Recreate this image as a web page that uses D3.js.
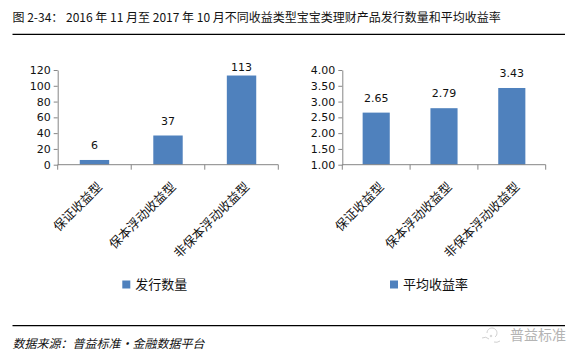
<!DOCTYPE html>
<html><head><meta charset="utf-8">
<script src="https://cdn.jsdelivr.net/npm/d3@7"></script>
<style>body{margin:0;background:#fff} svg{display:block}</style>
</head><body><svg id="c" width="584" height="363"></svg>
<script>
const categories = ["保证收益型", "保本浮动收益型", "非保本浮动收益型"];
const issueCounts = [6, 37, 113];
const avgYields = [2.65, 2.79, 3.43];
const countTicks = [0, 20, 40, 60, 80, 100, 120];
const yieldTicks = [1.00, 1.50, 2.00, 2.50, 3.00, 3.50, 4.00];
const seriesNames = ["发行数量", "平均收益率"];
const titleText = "图 2-34： 2016 年 11 月至 2017 年 10 月不同收益类型宝宝类理财产品发行数量和平均收益率";
const sourceText = "数据来源：普益标准·金融数据平台";
const watermarkText = "普益标准";

const svg = d3.select("#c");
svg.append("rect").attr("width", 584).attr("height", 363).attr("fill", "#fff");

const cjk = "'Noto Sans CJK SC','Noto Sans',sans-serif";
const num = "'DejaVu Sans',sans-serif";
const axisColor = "#868686";
const barColor = "#4F81BD";

// title
svg.append("text").attr("x", 12.5).attr("y", 21.5)
  .attr("font-family", cjk).attr("font-size", 12).attr("fill", "#111")
  .text(titleText);
svg.append("line").attr("x1", 12.5).attr("x2", 565).attr("y1", 34.3).attr("y2", 34.3)
  .attr("stroke", "#000").attr("stroke-width", 1.3);

function panel(opts) {
  const { x0, x1, yDomain, ticks, fmt, values, legendName, legendX } = opts;
  const yTop = 70, yBot = 164.7;
  const x = d3.scaleBand().domain(categories).range([x0, x1]).paddingInner(0.6).paddingOuter(0.3);
  const y = d3.scaleLinear().domain(yDomain).range([yBot, yTop]);
  const g = svg.append("g");

  // bars
  g.selectAll("rect.bar").data(values).join("rect")
    .attr("x", (d, i) => x(categories[i]))
    .attr("width", x.bandwidth())
    .attr("y", d => y(d))
    .attr("height", d => y(yDomain[0]) - y(d))
    .attr("fill", barColor);

  // y axis
  const ya = g.append("g").attr("transform", `translate(${x0},0)`)
    .call(d3.axisLeft(y).tickValues(ticks).tickFormat(fmt).tickSize(4).tickSizeOuter(0).tickPadding(3));
  ya.select(".domain").attr("stroke", axisColor);
  ya.selectAll(".tick line").attr("stroke", axisColor);
  ya.selectAll(".tick text").attr("font-family", num).attr("font-size", 11).attr("fill", "#111");

  // x axis line
  g.append("line").attr("x1", x0).attr("x2", x1).attr("y1", yBot).attr("y2", yBot)
    .attr("stroke", axisColor);
  const step = x.step();
  const bounds = categories.map(c => x(c) - (step - x.bandwidth()) / 2).concat([x1]);
  g.selectAll("line.xt").data(bounds).join("line")
    .attr("x1", d => d).attr("x2", d => d).attr("y1", yBot).attr("y2", yBot + 5)
    .attr("stroke", axisColor);

  // category labels
  g.selectAll("text.cat").data(categories).join("text")
    .attr("transform", d => `translate(${x(d) + x.bandwidth() / 2 + 8.5},${yBot + 23}) rotate(-45)`)
    .attr("text-anchor", "end")
    .attr("font-family", cjk).attr("font-size", 12.5).attr("fill", "#111")
    .text(d => d);

  // data labels
  g.selectAll("text.val").data(values).join("text")
    .attr("x", (d, i) => x(categories[i]) + x.bandwidth() / 2)
    .attr("y", d => Math.max(y(d) - 11, yTop + 0.7))
    .attr("text-anchor", "middle")
    .attr("font-family", num).attr("font-size", 11).attr("fill", "#111")
    .text(d => fmt(d));

  // legend
  g.append("rect").attr("x", legendX).attr("y", 280.5).attr("width", 8).attr("height", 8).attr("fill", barColor);
  g.append("text").attr("x", legendX + 13).attr("y", 289)
    .attr("font-family", cjk).attr("font-size", 13).attr("fill", "#111")
    .text(legendName);
}

panel({ x0: 57.7, x1: 278.3, yDomain: [0, 120], ticks: countTicks, fmt: d3.format("d"),
  values: issueCounts, legendName: seriesNames[0], legendX: 122.3 });
panel({ x0: 342.3, x1: 545.7, yDomain: [1, 4], ticks: yieldTicks, fmt: d3.format(".2f"),
  values: avgYields, legendName: seriesNames[1], legendX: 390 });

// bottom rule and source
svg.append("line").attr("x1", 12.5).attr("x2", 565).attr("y1", 325.7).attr("y2", 325.7)
  .attr("stroke", "#000").attr("stroke-width", 1.3);
svg.append("text").attr("x", 12.5).attr("y", 347.5)
  .attr("font-family", cjk).attr("font-size", 12).attr("font-style", "italic").attr("fill", "#111")
  .text(sourceText);

// watermark
const wm = svg.append("g").attr("stroke", "#c4c4c4").attr("fill", "none").attr("stroke-width", 0.8);
wm.append("path").attr("d", "M482,338 q4,-2 7,1 M487,333 a5,5 0 1,1 8,4 M494,342 q3,1 6,-1");
wm.append("circle").attr("cx", 491).attr("cy", 336).attr("r", 0.8);
svg.append("text").attr("x", 510).attr("y", 340)
  .attr("font-family", cjk).attr("font-size", 14).attr("fill", "#b4b4b4")
  .text(watermarkText);
</script></body></html>
